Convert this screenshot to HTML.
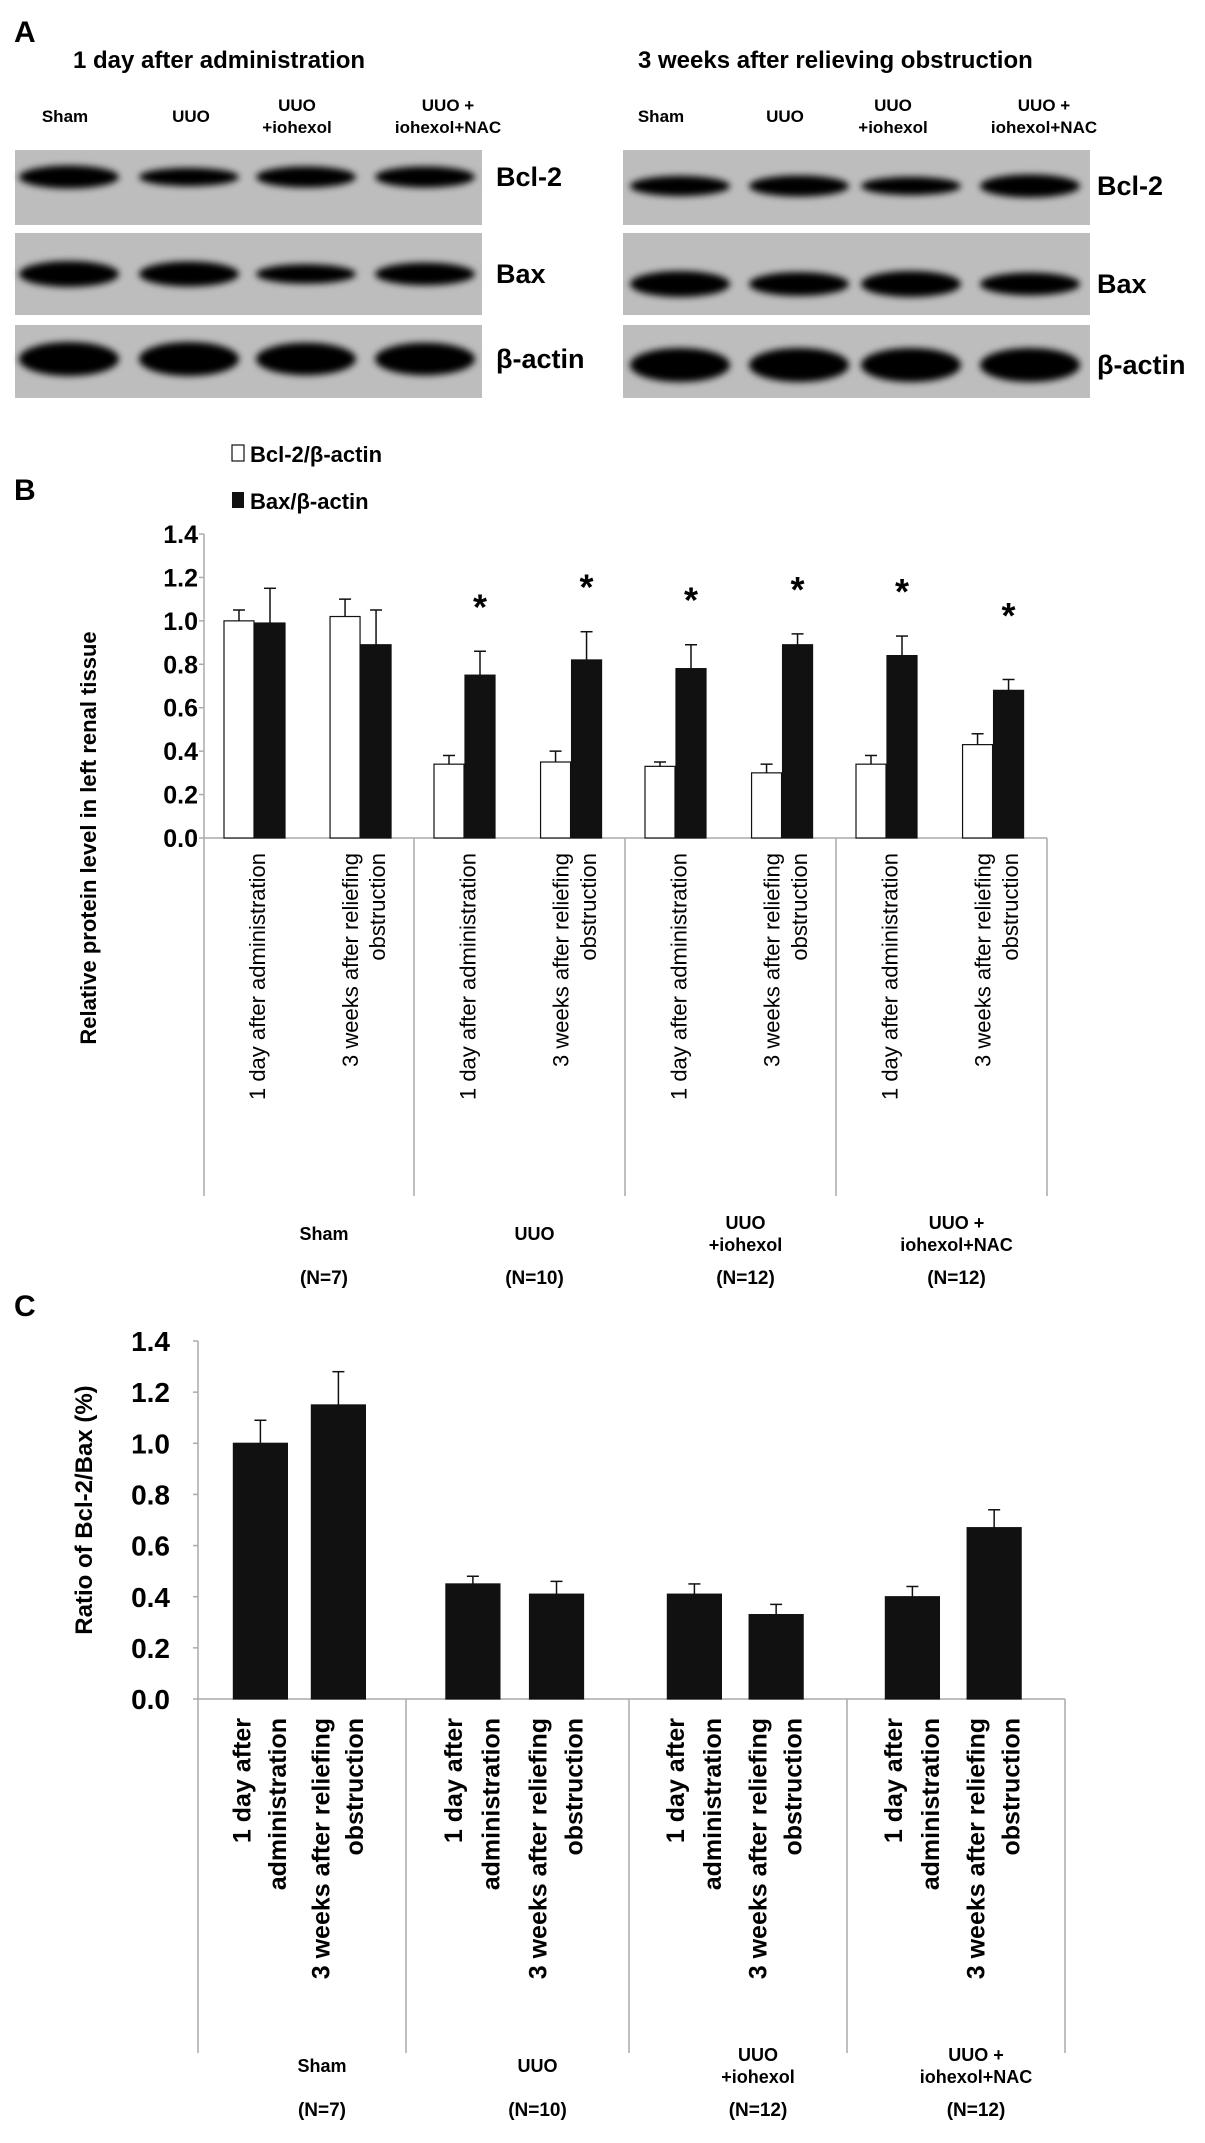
<!DOCTYPE html>
<html><head><meta charset="utf-8"><style>
body{margin:0;background:#fff;}
svg{display:block;font-family:"Liberation Sans",Arial,sans-serif;font-weight:bold;}
</style></head><body>
<svg width="1205" height="2143" viewBox="0 0 1205 2143">
<defs>
<filter id="blur" x="-20%" y="-60%" width="140%" height="220%"><feGaussianBlur stdDeviation="3.5"/></filter>
</defs>
<g id="panelA"></g>
<g id="panelB"></g>
<g id="panelC"></g>
</svg>
<script>
// ---- Panel B data ----
const groupsB = ["Sham","UUO","UUO\n+iohexol","UUO +\niohexol+NAC"];
const nLabels = ["(N=7)","(N=10)","(N=12)","(N=12)"];
const timepoints = ["1 day after administration","3 weeks after reliefing\nobstruction"];
const bcl2Vals = [1.00,1.02,0.34,0.35,0.33,0.30,0.34,0.43];
const bcl2Err  = [0.05,0.08,0.04,0.05,0.02,0.04,0.04,0.05];
const baxVals  = [0.99,0.89,0.75,0.82,0.78,0.89,0.84,0.68];
const baxErr   = [0.16,0.16,0.11,0.13,0.11,0.05,0.09,0.05];
const starsB   = [false,false,true,true,true,true,true,true];
const yTicks   = [0,0.2,0.4,0.6,0.8,1.0,1.2,1.4];
// ---- Panel C data ----
const ratioVals = [1.00,1.15,0.45,0.41,0.41,0.33,0.40,0.67];
const ratioErr  = [0.09,0.13,0.03,0.05,0.04,0.04,0.04,0.07];
const timepointsC = ["1 day after\nadministration","3 weeks after reliefing\nobstruction"];
// ---- Blot band intensities (relative) ----
const blotLeft  = {"Bcl-2":[1,0.75,0.9,0.9],"Bax":[1,0.95,0.7,0.85],"β-actin":[1,1,0.95,0.95]};
const blotRight = {"Bcl-2":[0.85,0.9,0.75,1],"Bax":[1,0.9,1,0.85],"β-actin":[1,1,1,1]};

const NS="http://www.w3.org/2000/svg";
function mk(parent,tag,attrs,text){const e=document.createElementNS(NS,tag);for(const k in attrs)e.setAttribute(k,attrs[k]);if(text!==undefined)e.textContent=text;parent.appendChild(e);return e;}

// ---------- Panel A ----------
const A=document.getElementById('panelA');
let t=mk(A,'text',{x:14,y:42,'font-size':30},'A');


t=mk(A,'text',{x:73,y:68,'font-size':24},'1 day after administration');


t=mk(A,'text',{x:638,y:68,'font-size':24},'3 weeks after relieving obstruction');


const laneLabels=[["Sham"],["UUO"],["UUO","+iohexol"],["UUO +","iohexol+NAC"]];
function blot(x0,lanesText,lanes,data,lblX,centers){
  lanesText.forEach((cx,i)=>{
    const L=laneLabels[i];
    const yy=L.length===1?[122]:[111,133];
    L.forEach((s,j)=>{const tt=mk(A,'text',{x:cx,y:yy[j],'font-size':17,'text-anchor':'middle'},s);
      
      });
  });
  const rows=[["Bcl-2",150,225,centers[0],19],["Bax",233,315,centers[1],22],["β-actin",325,398,centers[2],30]];
  rows.forEach(r=>{
    const g=mk(A,'g',{});
    
    
    mk(g,'rect',{x:x0,y:r[1],width:467,height:r[2]-r[1],fill:'#bdbdbd'});
    lanes.forEach((cx,i)=>{
      const v=data[r[0]][i];
      mk(g,'ellipse',{cx:cx,cy:r[3],rx:50,ry:r[4]/2*v+2,fill:'#050505',filter:'url(#blur)'});
    });
    const tt=mk(A,'text',{x:lblX,y:r[3]+9,'font-size':27},r[0]);
    
    
  });
}
blot(15,[65,191,297,448],[69,189,306,425],blotLeft,496,[177,274,359]);
blot(623,[661,785,893,1044],[680,799,911,1030],blotRight,1097,[186,284,365]);

// ---------- generic chart ----------
function chart(P,o){
  const y=v=>o.y0-(v/1.4)*(o.y0-o.y14);
  let ax=mk(P,'line',{x1:o.axX,y1:o.y14,x2:o.axX,y2:o.y0,stroke:'#aaa','stroke-width':1.5});
  
  
  yTicks.forEach(v=>{
    mk(P,'line',{x1:o.axX-5,y1:y(v),x2:o.axX,y2:y(v),stroke:'#aaa','stroke-width':1.5});
    const tl=mk(P,'text',{x:o.tickR,y:y(v)+o.tfs*0.36,'font-size':o.tfs,'text-anchor':'end'},v.toFixed(1));
    
    
  });
  let xa=mk(P,'line',{x1:o.axX,y1:o.y0,x2:o.seps[4],y2:o.y0,stroke:'#aaa','stroke-width':1.5});
  
  
  o.seps.forEach(sx=>mk(P,'line',{x1:sx,y1:o.y0,x2:sx,y2:o.sepBot,stroke:'#aaa','stroke-width':1.5}));
  const yt=mk(P,'text',{x:0,y:0,'font-size':o.yfs,'text-anchor':'middle',transform:`translate(${o.ytX},${o.ytY}) rotate(-90)`},o.ytitle);
  
  
  groupsB.forEach((gname,gi)=>{
    const w=o.seps[gi+1]-o.seps[gi];
    const gx=o.seps[gi]+w/2+o.glOff;
    const lines=gname.split('\n');
    const yy=lines.length===1?[o.glY]:[o.glY-11,o.glY+11];
    lines.forEach((s,j)=>{const tl=mk(P,'text',{x:gx,y:yy[j],'font-size':18,'text-anchor':'middle'},s);
      
      });
    const nl=mk(P,'text',{x:gx,y:o.nY,'font-size':19,'text-anchor':'middle'},nLabels[gi]);
    
    
    o.tps.forEach((tp,ti)=>{
      const lines2=tp.split('\n');
      lines2.forEach((s,j)=>{
        const cx=o.seps[gi]+o.catX[ti][j]*w;
        const tl=mk(P,'text',{x:0,y:0,'font-size':o.cfs,'font-weight':o.cfw,'text-anchor':'end',transform:`translate(${cx+o.cfs*0.36},${o.catTop}) rotate(-90)`},s);
        
        
      });
    });
  });
  return y;
}
function bar(P,x,w,v,e,y,fill,name){
  const g=mk(P,'g',{});
  
  
  mk(g,'line',{x1:x+w/2,y1:y(v),x2:x+w/2,y2:y(v+e),stroke:'#111','stroke-width':1.5});
  mk(g,'line',{x1:x+w/2-6,y1:y(v+e),x2:x+w/2+6,y2:y(v+e),stroke:'#111','stroke-width':1.5});
  mk(g,'rect',{x:x,y:y(v),width:w,height:y(0)-y(v),fill:fill,stroke:'#111','stroke-width':1.2});
}

// ---------- Panel B ----------
const B=document.getElementById('panelB');
t=mk(B,'text',{x:14,y:500,'font-size':30},'B');


let lg=mk(B,'g',{});


mk(lg,'rect',{x:232,y:445,width:12,height:16,fill:'#fff',stroke:'#111','stroke-width':1.2});
mk(lg,'text',{x:250,y:462,'font-size':22},'Bcl-2/β-actin');
mk(lg,'rect',{x:232,y:492,width:12,height:16,fill:'#111'});
mk(lg,'text',{x:250,y:509,'font-size':22},'Bax/β-actin');
const oB={axX:204,tickR:198,y0:838,y14:534,seps:[204,414,625,836,1047],sepBot:1196,tfs:25,yfs:22,ytX:96,ytY:838,
  ytitle:'Relative protein level in left renal tissue',glOff:15,glY:1240,nY:1284,tps:timepoints,
  catX:[[0.253],[0.695,0.825]],catTop:853,cfs:22,cfw:'normal'};
const yB=chart(B,oB);
bcl2Vals.forEach((v,i)=>{
  const gi=Math.floor(i/2),ti=i%2;
  const w=oB.seps[gi+1]-oB.seps[gi];
  const x=oB.seps[gi]+20+ti*0.505*w;
  bar(B,x,30,v,bcl2Err[i],yB,'#fff','bcl2-bar');
  bar(B,x+31,30,baxVals[i],baxErr[i],yB,'#111','bax-bar');
  if(starsB[i]){const s=mk(B,'text',{x:x+46,y:Math.min(yB(1.05),yB(baxVals[i]+baxErr[i])-50)+18,'font-size':36,'text-anchor':'middle'},'*');
    
    }
});

// ---------- Panel C ----------
const C=document.getElementById('panelC');
t=mk(C,'text',{x:14,y:1316,'font-size':30},'C');


const oC={axX:198,tickR:170,y0:1699,y14:1341,seps:[198,406,629,847,1065],sepBot:2053,tfs:28,yfs:24,ytX:92,ytY:1510,
  ytitle:'Ratio of Bcl-2/Bax (%)',glOff:20,glY:2072,nY:2116,tps:timepointsC,
  catX:[[0.21,0.38],[0.59,0.75]],catTop:1718,cfs:25,cfw:'bold'};
const yC=chart(C,oC);
ratioVals.forEach((v,i)=>{
  const gi=Math.floor(i/2),ti=i%2;
  const w=oC.seps[gi+1]-oC.seps[gi];
  const cx=oC.seps[gi]+(ti===0?0.30:0.675)*w;
  bar(C,cx-27,54,v,ratioErr[i],yC,'#111','ratio-bar');
});
</script>
</body></html>
